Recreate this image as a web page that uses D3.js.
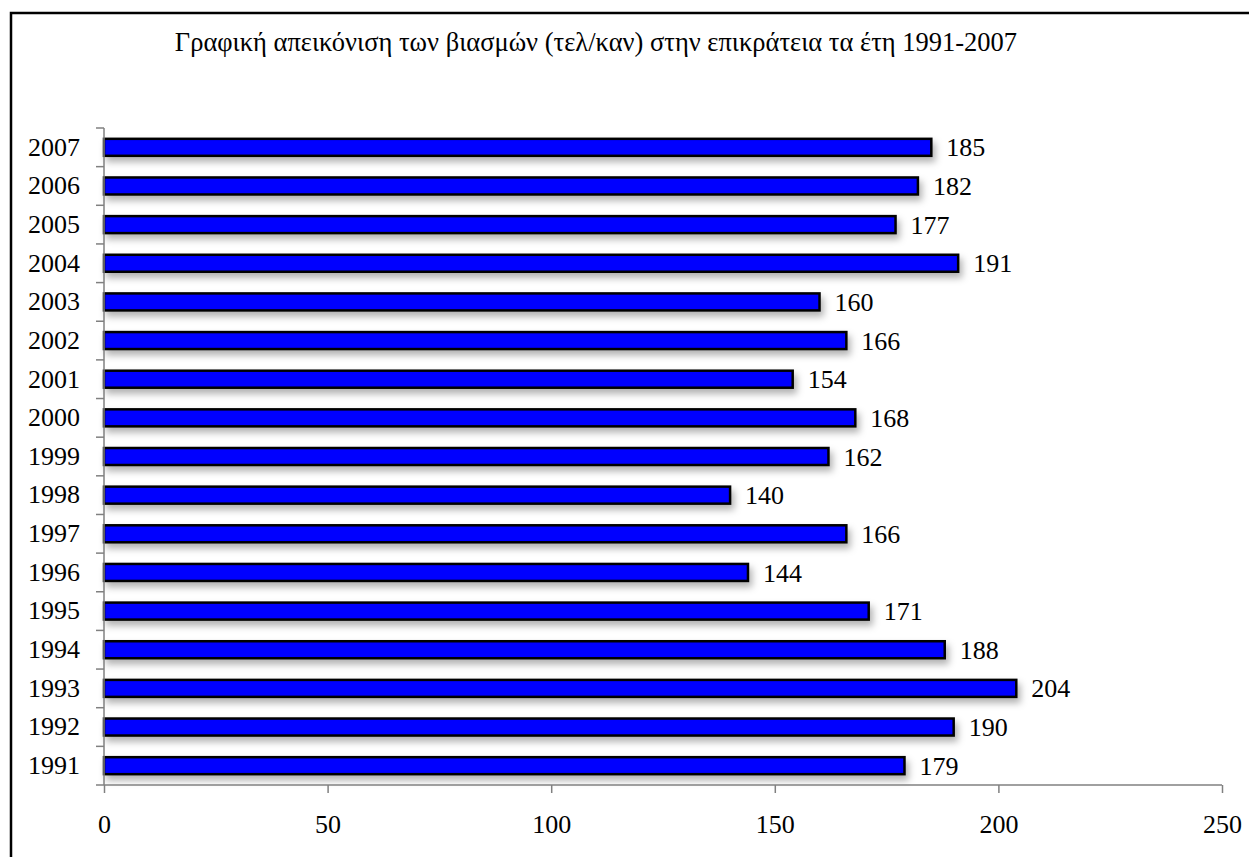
<!DOCTYPE html>
<html>
<head>
<meta charset="utf-8">
<script src="https://cdn.jsdelivr.net/npm/d3@7/dist/d3.min.js"></script>
<style>
html,body{margin:0;padding:0;background:#fff;}
svg{display:block;}
text{font-family:"Liberation Serif","Times New Roman",serif;fill:#000;}
</style>
</head>
<body>
<svg id="chart" width="1249" height="857"></svg>
<script>
const title = "Γραφική απεικόνιση των βιασμών (τελ/καν) στην επικράτεια τα έτη 1991-2007";
const years = ["1991","1992","1993","1994","1995","1996","1997","1998","1999","2000","2001","2002","2003","2004","2005","2006","2007"];
const values = [179,190,204,188,171,144,166,140,162,168,154,166,160,191,177,182,185];
const xTicks = [0,50,100,150,200,250];

(function(){
const svg = d3.select("#chart");
const W = 1249, H = 857;

const defs = svg.append("defs");
const f = defs.append("filter").attr("id","shadow").attr("x","-10%").attr("y","-80%").attr("width","120%").attr("height","300%");
f.append("feDropShadow").attr("dx",3).attr("dy",5).attr("stdDeviation",3.5).attr("flood-color","#000").attr("flood-opacity",0.3);

// outer border
svg.append("rect").attr("x",11).attr("y",13).attr("width",W+20).attr("height",H+20)
  .attr("fill","#fff").attr("stroke","#000").attr("stroke-width",2.5);

const pL = 104, pR = 1222, pT = 128, pB = 785;

const x = d3.scaleLinear().domain([0,250]).range([pL,pR]);
const y = d3.scaleBand().domain(years.slice().reverse()).range([pT,pB]).paddingInner(0).paddingOuter(0);

// title
svg.append("text").attr("x",596).attr("y",51).attr("text-anchor","middle")
  .style("font-size","26.5px").text(title);

// bars
const barH = 17;
const g = svg.append("g");
g.selectAll("rect.bar").data(years).enter().append("rect")
  .attr("class","bar")
  .attr("x",x(0))
  .attr("y",d=>y(d)+y.bandwidth()/2-barH/2)
  .attr("width",(d,i)=>x(values[i])-x(0))
  .attr("height",barH)
  .attr("fill","#0000ff").attr("stroke","#000").attr("stroke-width",2.5)
  .attr("filter","url(#shadow)");

// value labels
g.selectAll("text.val").data(years).enter().append("text")
  .attr("class","val")
  .attr("x",(d,i)=>x(values[i])+15)
  .attr("y",d=>y(d)+y.bandwidth()/2)
  .attr("dy","0.35em")
  .style("font-size","26px")
  .text((d,i)=>values[i]);

// x axis
const xAxis = svg.append("g").attr("transform",`translate(0,${pB})`)
  .call(d3.axisBottom(x).tickValues(xTicks).tickSize(8).tickPadding(22).tickFormat(d3.format("d")));
xAxis.select(".domain").attr("stroke","#808080").attr("stroke-width",1.5).attr("d",`M${pL},0H${pR}`);
xAxis.selectAll(".tick line").attr("stroke","#808080").attr("stroke-width",1.5);
xAxis.selectAll(".tick text").style("font-size","26px").style("font-family","Liberation Serif, Times New Roman, serif").attr("fill","#000");

// y axis
const yAxis = svg.append("g").attr("transform",`translate(${pL},0)`)
  .call(d3.axisLeft(y).tickSize(0).tickPadding(24));
yAxis.select(".domain").attr("stroke","#808080").attr("stroke-width",1.5).attr("d",`M0,${pT}V${pB}`);
yAxis.selectAll(".tick text").style("font-size","26px").style("font-family","Liberation Serif, Times New Roman, serif").attr("fill","#000");
const bounds = years.map(d=>y(d)).concat([pB]);
yAxis.selectAll("line.bt").data(bounds).enter().append("line")
  .attr("class","bt").attr("x1",-8).attr("x2",0).attr("y1",d=>d).attr("y2",d=>d)
  .attr("stroke","#808080").attr("stroke-width",1.5);
})();
</script>
</body>
</html>
